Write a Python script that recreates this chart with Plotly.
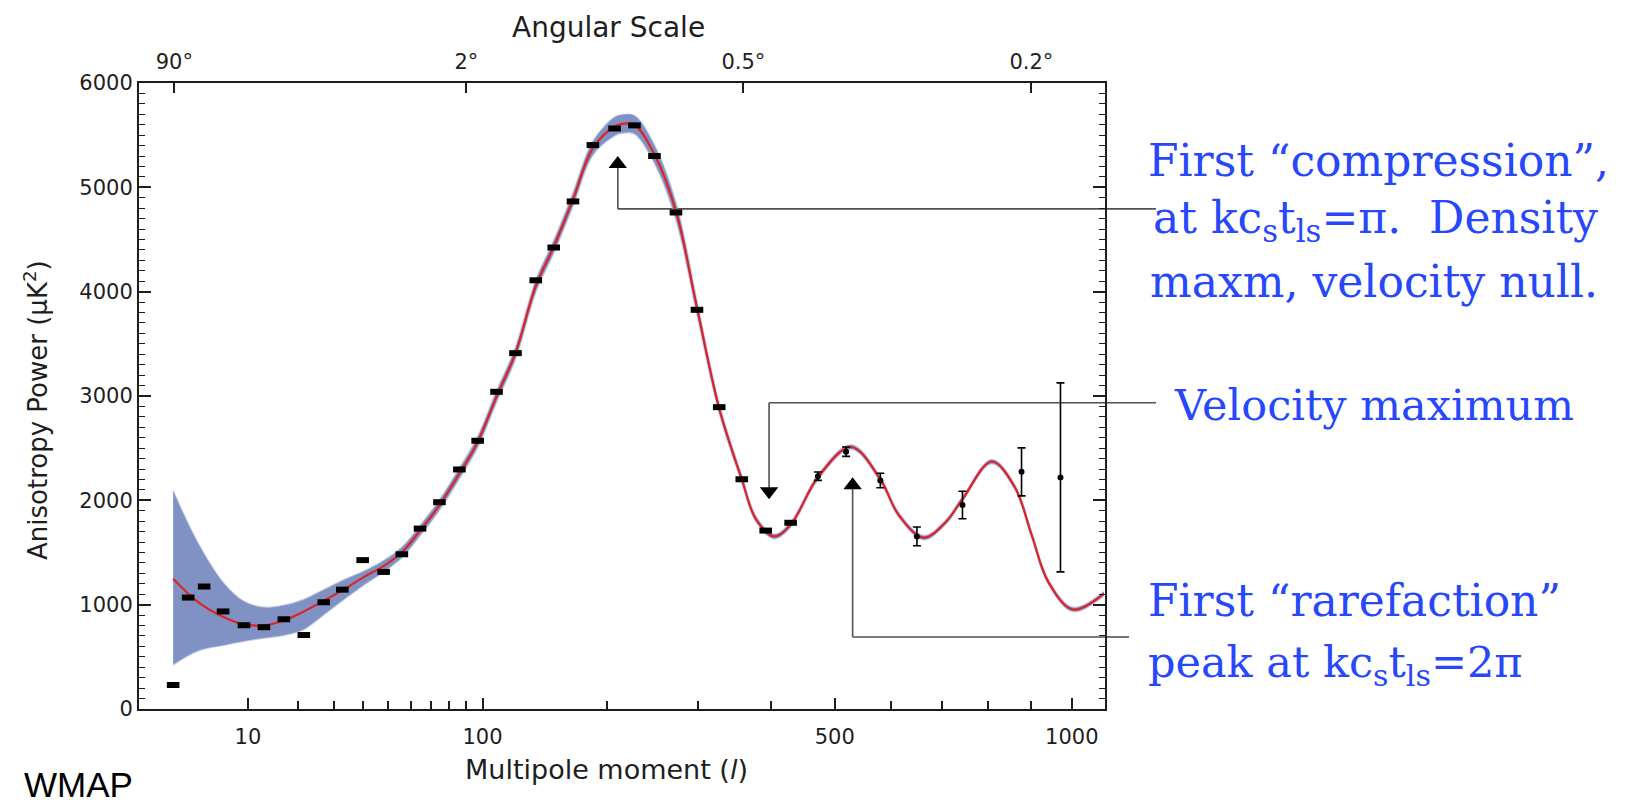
import numpy as np
import plotly.graph_objects as go

# ---------------- data ----------------
# best-fit model curve: multipole l and power (uK^2)
curve_l = [1.93, 3.74, 6.58, 9.37, 12.78, 16.83, 21.57, 27.0, 33.2, 40.3, 48.1, 56.0,
           64.6, 74.6, 85.8, 96.9, 109.2, 122.5, 137.7, 152.1, 168.5, 186.5, 207.4,
           215.7, 227.7, 249.3, 273.9, 299.2, 327.5, 357.8, 377.4, 404, 429, 472.2,
           528, 580.4, 614.7, 663.4, 707.3, 743.8, 808, 861, 900.4, 941, 1003, 1084]
curve_v = [1249, 1030, 879, 811, 803, 849, 935, 1037, 1144, 1264, 1370, 1502,
           1710, 1955, 2258, 2560, 2994, 3411, 4052, 4430, 4884, 5375, 5583,
           5609, 5600, 5318, 4770, 3845, 2881, 2202, 1823, 1654, 1767, 2221,
           2511, 2202, 1861, 1642, 1785, 2012, 2372, 2125, 1672, 1219, 954, 1106]
# uncertainty band (upper / lower edge) on the same l grid
band_hi = [2087, 1597, 1200, 1030, 973, 992, 1048, 1140, 1235, 1318, 1420, 1548,
           1755, 2000, 2305, 2608, 3043, 3462, 4105, 4485, 4942, 5437, 5670,
           5695, 5686, 5400, 4845, 3900, 2920, 2230, 1845, 1674, 1787, 2241,
           2531, 2222, 1880, 1660, 1803, 2030, 2390, 2143, 1690, 1237, 972, 1124]
band_lo = [426, 558, 614, 652, 682, 709, 765, 905, 1050, 1190, 1318, 1455,
           1665, 1910, 2212, 2512, 2945, 3360, 4000, 4375, 4826, 5313, 5496,
           5522, 5514, 5236, 4695, 3790, 2842, 2174, 1801, 1634, 1747, 2201,
           2491, 2182, 1842, 1624, 1767, 1994, 2354, 2107, 1654, 1201, 936, 1088]

# measured band powers
bin_l = [1.93, 2.96, 4.36, 6.46, 9.37, 12.78, 16.83, 21.57, 27.03, 32.8, 39.9, 48.1,
         56.0, 64.6, 74.6, 85.8, 96.9, 109.2, 122.5, 137.7, 152.1, 168.5, 186.5,
         207.4, 227.7, 249.3, 273.9, 299.2, 327.5, 357.8, 391.7, 429.0]
bin_v = [230, 1068, 1174, 935, 803, 784, 860, 709, 1023, 1144, 1427, 1314,
         1483, 1729, 1982, 2296, 2571, 3040, 3411, 4109, 4423, 4865, 5405,
         5564, 5594, 5300, 4759, 3826, 2893, 2202, 1710, 1785]
hi_l = [472.2, 519.4, 580.4, 650.2, 743.8, 876.6, 971.4]
hi_v = [2231, 2466, 2190, 1654, 1955, 2273, 2220]
hi_err = [40, 45, 70, 90, 132, 230, 906]

# axis ticks
x_major = [10, 100, 500, 1000]
x_minor = [20, 30, 40, 50, 60, 70, 80, 90, 200, 300, 400, 600, 700, 800, 900]
ang_l = [2, 90, 360, 900]
ang_text = ["90°", "2°", "0.5°", "0.2°"]
x_lim = [0.484, 1087]

# annotated features (l, power)
compression = dict(l=210.6, v=5223, level=4794)
velocity = dict(l=396.6, v=2087, level=2935)
rarefaction = dict(l=530.7, v=2144, level=690)

# ---------------- scale helpers ----------------
P = 0.4  # the plot's multipole axis is linear in l**0.4


def ax(l):
    return np.asarray(l, dtype=float) ** P


W, H = 1629, 805
L, R, T, B = 139, 1105, 83, 709


def pxx(x):
    return (x - L) / (R - L)


def pxy(y):
    return (B - y) / (B - T)


AX_FONT = "DejaVu Sans"
INK = "#1e1e1e"
BLUE = "rgb(38,72,250)"
BAND = "rgb(128,146,196)"

fig = go.Figure()

# uncertainty band
fig.add_trace(go.Scatter(x=ax(curve_l), y=band_hi, mode="lines",
                         line=dict(width=2, shape="spline", color="rgba(128,146,196,0.45)"),
                         hoverinfo="skip", showlegend=False))
fig.add_trace(go.Scatter(x=ax(curve_l), y=band_lo, mode="lines", fill="tonexty",
                         fillcolor=BAND,
                         line=dict(width=2, shape="spline", color="rgba(128,146,196,0.45)"),
                         hoverinfo="skip", showlegend=False))
# model curve
fig.add_trace(go.Scatter(x=ax(curve_l), y=curve_v, mode="lines",
                         line=dict(width=2.2, shape="spline", color="rgb(220,36,36)"),
                         showlegend=False))
# binned data
fig.add_trace(go.Scatter(x=ax(bin_l), y=bin_v, mode="markers",
                         marker=dict(symbol="line-ew", size=9,
                                     line=dict(width=6, color="black")),
                         showlegend=False))
fig.add_trace(go.Scatter(x=ax(hi_l), y=hi_v, mode="markers",
                         marker=dict(symbol="circle", size=6, color="black"),
                         error_y=dict(type="data", array=hi_err, visible=True,
                                      thickness=1.6, width=4, color="black"),
                         showlegend=False))
# arrow heads
fig.add_trace(go.Scatter(x=ax([compression["l"], rarefaction["l"]]),
                         y=[compression["v"], rarefaction["v"]], mode="markers",
                         marker=dict(symbol="triangle-up", size=16, color="black"),
                         showlegend=False))
fig.add_trace(go.Scatter(x=ax([velocity["l"]]), y=[velocity["v"]], mode="markers",
                         marker=dict(symbol="triangle-down", size=16, color="black"),
                         showlegend=False))
# invisible trace carrying the angular-scale axis
fig.add_trace(go.Scatter(x=ax(ang_l), y=[3000] * len(ang_l), xaxis="x2", mode="markers",
                         marker=dict(opacity=0), hoverinfo="skip", showlegend=False))

# leader lines
LINE = dict(color="rgb(80,80,80)", width=1.6)
shapes = []
for feat, xend in ((compression, pxx(1156)), (velocity, pxx(1156)), (rarefaction, pxx(1129))):
    xu = float(ax(feat["l"]))
    shapes.append(dict(type="line", xref="x", yref="y", x0=xu, x1=xu,
                       y0=feat["v"], y1=feat["level"], line=LINE, layer="below"))
    shapes.append(dict(type="line", xref="x", yref="y", x0=xu, x1=float(ax(x_lim[1])),
                       y0=feat["level"], y1=feat["level"], line=LINE, layer="below"))
    shapes.append(dict(type="line", xref="paper", yref="y", x0=1.0, x1=xend,
                       y0=feat["level"], y1=feat["level"], line=LINE, layer="below"))

tickfont = dict(family=AX_FONT, size=21, color=INK)
fig.update_layout(
    width=W, height=H,
    margin=dict(l=L, r=W - R, t=T, b=H - B),
    paper_bgcolor="white", plot_bgcolor="white",
    showlegend=False,
    shapes=shapes,
    xaxis=dict(range=list(ax(x_lim)), tickmode="array", tickvals=list(ax(x_major)),
               ticktext=[str(v) for v in x_major], ticks="inside", ticklen=11,
               tickwidth=1.6, tickcolor=INK,
               minor=dict(tickmode="array", tickvals=list(ax(x_minor)), ticks="inside",
                          ticklen=8, tickwidth=1.6, tickcolor=INK),
               showline=True, linewidth=2, linecolor=INK, mirror=False,
               showgrid=False, zeroline=False, tickfont=tickfont, ticklabelstandoff=8),
    xaxis2=dict(overlaying="x", side="top", range=list(ax(x_lim)), tickmode="array",
                tickvals=list(ax(ang_l)), ticktext=ang_text, ticks="inside", ticklen=10,
                tickwidth=1.6, tickcolor=INK, showline=True, linewidth=2, linecolor=INK,
                showgrid=False, zeroline=False, tickfont=tickfont, ticklabelstandoff=4),
    yaxis=dict(range=[0, 6000], tick0=0, dtick=1000, ticks="inside", ticklen=12,
               tickwidth=1.6, tickcolor=INK,
               minor=dict(dtick=100, ticks="inside", ticklen=6, tickwidth=1.4, tickcolor=INK),
               showline=True, linewidth=2, linecolor=INK, mirror="ticks",
               showgrid=False, zeroline=False, tickfont=tickfont, ticklabelstandoff=0),
)

ann = []


def text(s, x, y, size, family, color=INK, xanchor="left", angle=0):
    ann.append(dict(text=s, x=pxx(x), y=pxy(y), xref="paper", yref="paper",
                    xanchor=xanchor, yanchor="middle", showarrow=False, textangle=angle,
                    font=dict(family=family, size=size, color=color)))


text("Angular Scale", 608, 28, 28, AX_FONT, xanchor="center")
text("Multipole moment (<i>l</i>)", 606, 769, 27, AX_FONT, xanchor="center")
text("Anisotropy Power (μK<sup>2</sup>)", 36, 410, 26, AX_FONT, xanchor="center", angle=-90)
text("WMAP", 22, 784, 35, "Liberation Sans", color="black")

SERIF = "DejaVu Serif"
text("First “compression”,", 1146, 161, 44, SERIF, BLUE)
text("at kc<sub>s</sub>t<sub>ls</sub>=π.\u00a0 Density", 1151, 221, 44, SERIF, BLUE)
text("maxm, velocity null.", 1148, 281, 44, SERIF, BLUE)
text("Velocity maximum", 1172, 405, 43, SERIF, BLUE)
text("First “rarefaction”", 1146, 600, 44, SERIF, BLUE)
text("peak at kc<sub>s</sub>t<sub>ls</sub>=2π", 1146, 665, 43, SERIF, BLUE)

fig.update_layout(annotations=ann)
fig.write_html("out.html")
